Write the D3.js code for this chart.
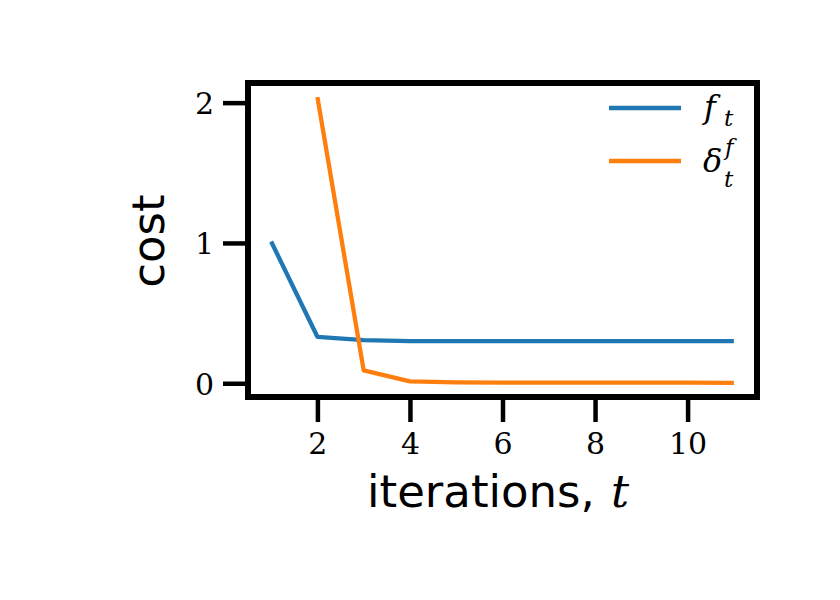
<!DOCTYPE html>
<html><head><meta charset="utf-8">
<script src="https://cdn.jsdelivr.net/npm/d3@7"></script>
<style>body{margin:0;background:#fff}</style>
</head><body>
<svg id="c" width="840" height="600"></svg>
<script>
const iterations = [1,2,3,4,5,6,7,8,9,10,11];
const fValues = [1.01,0.331,0.307,0.300,0.300,0.300,0.300,0.300,0.300,0.300,0.300];
const deltaIter = [2,3,4,5,6,7,8,9,10,11];
const deltaValues = [2.04,0.092,0.014,0.006,0.005,0.005,0.004,0.004,0.004,0.003];
const xTicks = [2,4,6,8,10];
const yTicks = [0,1,2];

const svg = d3.select("#c");
const L=248,R=757,T=83,B=397;
const x = d3.scaleLinear().domain([0.5,11.5]).range([L,R]);
const y = d3.scaleLinear().domain([-0.098,2.14]).range([B,T]);

const line = d3.line().x(d=>x(d[0])).y(d=>y(d[1]));
svg.append("path").datum(iterations.map((t,i)=>[t,fValues[i]]))
  .attr("d",line).attr("fill","none").attr("stroke","#1f77b4").attr("stroke-width",4.3).attr("stroke-linejoin","round");
svg.append("path").datum(deltaIter.map((t,i)=>[t,deltaValues[i]]))
  .attr("d",line).attr("fill","none").attr("stroke","#ff7f0e").attr("stroke-width",4.3).attr("stroke-linejoin","round");

const xa = svg.append("g").attr("transform",`translate(0,${B})`)
  .call(d3.axisBottom(x).tickValues(xTicks).tickSize(25).tickPadding(12).tickFormat(d3.format("d")));
const ya = svg.append("g").attr("transform",`translate(${L},0)`)
  .call(d3.axisLeft(y).tickValues(yTicks).tickSize(25).tickPadding(9).tickFormat(d3.format("d")));
[xa,ya].forEach(a=>{
  a.attr("font-size",30).attr("font-family","DejaVu Serif, serif");
  a.select(".domain").remove();
  a.selectAll(".tick line").attr("stroke","#000").attr("stroke-width",4.5);
  a.selectAll(".tick text").attr("fill","#000");
});
ya.selectAll(".tick text").attr("dy","0.36em");
xa.selectAll(".tick text").attr("dy","0.68em");

svg.append("rect").attr("x",L).attr("y",T).attr("width",R-L).attr("height",B-T)
  .attr("fill","none").attr("stroke","#000").attr("stroke-width",6);

svg.append("text").attr("x",498).attr("y",507).attr("text-anchor","middle")
  .attr("font-family","DejaVu Sans, sans-serif").attr("font-size",45)
  .html('iterations,<tspan dx="16" font-family="DejaVu Serif, serif" font-style="italic">t</tspan>');
svg.append("text").attr("transform","translate(164,241) rotate(-90)").attr("text-anchor","middle")
  .attr("font-family","DejaVu Sans, sans-serif").attr("font-size",45).text("cost");

// legend
const lg = svg.append("g");
lg.append("line").attr("x1",609).attr("x2",681).attr("y1",108).attr("y2",108).attr("stroke","#1f77b4").attr("stroke-width",4.5);
lg.append("line").attr("x1",609).attr("x2",681).attr("y1",161).attr("y2",161).attr("stroke","#ff7f0e").attr("stroke-width",4.5);
const mf = "DejaVu Serif, serif";
lg.append("text").attr("x",704).attr("y",118).attr("font-family",mf).attr("font-style","italic").attr("font-size",32).text("f");
lg.append("text").attr("x",724).attr("y",126).attr("font-family",mf).attr("font-style","italic").attr("font-size",23).text("t");
lg.append("text").attr("x",703).attr("y",172).attr("font-family",mf).attr("font-style","italic").attr("font-size",32).text("δ");
lg.append("text").attr("x",725).attr("y",155).attr("font-family",mf).attr("font-style","italic").attr("font-size",23).text("f");
lg.append("text").attr("x",724).attr("y",187).attr("font-family",mf).attr("font-style","italic").attr("font-size",23).text("t");
</script>
</body></html>
